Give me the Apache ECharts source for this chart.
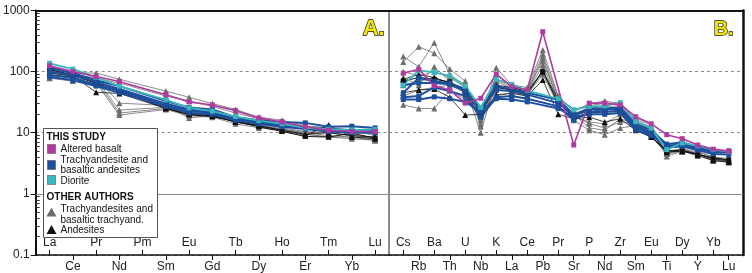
<!DOCTYPE html>
<html>
<head>
<meta charset="utf-8">
<script src="https://cdn.jsdelivr.net/npm/echarts@6/dist/echarts.min.js"></script>
<style>
  html, body { margin: 0; padding: 0; background: #fff; }
  #chart { width: 752px; height: 273px; }
</style>
</head>
<body>
<div id="chart"></div>
<script>
// categories
const catsA = ['La', 'Ce', 'Pr', 'Nd', 'Pm', 'Sm', 'Eu', 'Gd', 'Tb', 'Dy', 'Ho', 'Er', 'Tm', 'Yb', 'Lu'];
const catsB = ['Cs', 'Rb', 'Ba', 'Th', 'U', 'Nb', 'K', 'La', 'Ce', 'Pb', 'Pr', 'Sr', 'P', 'Nd', 'Zr', 'Sm', 'Eu', 'Ti', 'Dy', 'Y', 'Yb', 'Lu'];
const yTicks = [0.1, 1, 10, 100, 1000];

// A. REE (chondrite normalised) - Pm not analysed
const basaltA = [125, 100, 83, 69, null, 42, 32, 28.5, 23, 17.5, 15, 12.5, 11, 10.5, 10.5];
const dioriteA = [137, 110, 81, 58, null, 34.5, 25.5, 22.6, 18.4, 15.8, 14, 12, 11.4, 11.1, 11.3];
const trachyA1 = [115, 95, 72, 58, null, 33, 26, 24, 18, 16, 15, 14.5, 12.5, 12.8, 12];
const trachyA2 = [100, 88, 68, 52, null, 30, 24, 22, 17, 15, 13.5, 12, 11.5, 11, 11];
const trachyA3 = [88, 80, 60, 50, null, 28, 23, 21, 16.5, 14.5, 13, 12, 11, 10.5, 10.5];
const trachyA4 = [82, 72, 58, 45, null, 27, 21, 20, 16, 14, 12.5, 11.5, 10.5, 10, 10];
const otherTrA1 = [110, 95, 95, 75, null, 48, 38, 30, 24, 18, 16, 13, 12, 11, 10.5];
const otherTrA2 = [100, 85, 80, 30.5, null, 28, 22, 20, 16, 14, 12, 10.5, 10, 9, 8.5];
const otherTrA3 = [95, 82, 75, 23.5, null, 26, 21, 20, 15, 13.5, 11.5, 10, 9, 8.5, 8];
const otherTrA4 = [85, 78, 70, 21, null, 25, 20, 19, 15, 13, 11, 9.5, 8.5, 8, 7.5];
const otherTrA5 = [80, 75, 65, 19.5, null, 24, 19, 18, 14, 12, 11, 9.5, 8.5, 8.5, 7.5];
const otherTrA6 = [78, 70, 62, 48, null, 27, 17.5, 19, 15, 13, 11.5, 10, 10, 9, 8];
const otherTrA7 = [105, 90, 78, 65, null, 40, 33, 27, 21, 17, 14.5, 12.5, 12, 11, 9];
const andesA1 = [95, 85, 46, 44, null, 25, 20, 19, 15, 13, 11, 9.5, 10, 9, 8.5];
const andesA2 = [120, 92, 66, 52, null, 26, 21, 19, 16, 13, 11, 9, 13.4, 8.5, 8];
const andesA3 = [108, 88, 64, 48, null, 25, 19.7, 18.4, 15.2, 12.5, 10.5, 8.7, 8.5, 9.8, 8.2];

// B. multi-element (primitive mantle normalised)
const basaltB = [94, 109, 59, 50, 30.5, 36.7, 91, 57, 50, 450, null, 6.3, 30.5, 30.5, 28.6, 18.3, 14, 9.3, 8, 6.3, 5.4, 5];
const dioriteB = [60, 105, 97, 85, 58, 26, 75, 62, 49, null, 36, 23.7, 27, 27.5, 31, 15.2, 11.9, 5.3, 6.8, 6.1, 5.3, 4.9];
const trachyB1 = [45, 79, 69, 65, 52, 23, 57, 52, 45, null, 34.5, 20, 25, 25, 26, 14, 11, 6.5, 7, 5.8, 5.1, 5];
const trachyB2 = [60, 65, 65, 62, 48, 25, 50, 48, 42, null, 30.5, 19, 24, 24, 25, 13, 10, 6, 6.5, 5.5, 4.8, 4.8];
const trachyB3 = [38, 40, 55, 48, 40, 18, 38, 40, 36, null, 27, 16.2, 22, 22, 23, 12, 9.5, 5.8, 6, 5.2, 4.5, 4.4];
const trachyB4 = [35, 35, 38.6, 36, 32, 22, 36, 35, 32, null, 25, 18, 20, 20, 21, 11, 9, 6.2, 6.2, 5.5, 5, 5];
const otherTrB1 = [176, 120, 298, 90, 60, 14, 116, 60, 55, 226, 40, 22, 30, 33, 30, 18, 13, 5.5, 6, 5, 4, 3.8];
const otherTrB2 = [144, 256, 200, 110, 70, 12.7, 90, 58, 50, 190, 38, 24, 28, 30, 28, 17, 12, 5, 5.5, 4.8, 4, 3.5];
const otherTrB3 = [100, 85, 100, 80, 55, 10, 75, 55, 48, 150, 35, 20, 25, 27, 26, 16, 11, 4.5, 5.5, 4.5, 3.8, 3.5];
const otherTrB4 = [80, 60, 120, 70, 48, 16, 60, 50, 45, 128, 32, 18, 15, 14, 20, 15, 11, 4.1, 5, 4.5, 3.6, 3.4];
const otherTrB5 = [28.6, 25, 25, 50, 35, 20, 40, 45, 40, 110, 30, 20, 12, 11, 17, 14, 10, 5, 5, 4.5, 3.8, 3.5];
const otherTrB6 = [40, 50, 55, 60, 45, 18, 50, 48, 42, 90, 28, 16, 11, 9.3, 12, 13, 9, 4.5, 5, 4.2, 3.5, 3.3];
const otherTrB7 = [60, 70, 80, 65, 50, 22, 70, 52, 46, 170, 33, 19, 14, 12, 15, 14, 10, 5, 5.2, 4.6, 3.6, 3.4];
const andesB1 = [75, 90, 80, 65, 50, 25, 60, 55, 48, 100, 35, 20, 22, 24, 24, 12, 9.5, 5, 5, 4.5, 3.7, 3.5];
const andesB2 = [45, 50, 52, 38, 19.5, 20, 42, 44, 40, 73, 20, 17, 18, 15, 17, 11, 8.5, 4.8, 5, 4.3, 3.5, 3.3];
const andesB3 = [70, 80, 75, 68, 45, 21, 55, 50, 44, 100, 30, 18, 21, 22, 22, 11, 8.6, 5, 5.2, 4.4, 3.9, 3.6];

const C_BASALT = '#b03a9f';
const C_TRACHY = '#1c4f9e';
const C_DIORITE = '#3ab7bd';
const C_OTHER = '#6d6d6d';
const C_ANDES = '#111111';

const chart = echarts.init(document.getElementById('chart'));

function pts(values) {
  return values.map((v, i) => (v == null ? null : [i, v])).filter(Boolean);
}

function line(values, panel, color, symbol, width, size) {
  return {
    type: 'line',
    xAxisIndex: panel === 'A' ? 0 : 3,
    yAxisIndex: panel === 'A' ? 0 : 2,
    data: pts(values),
    symbol: symbol,
    symbolSize: size,
    showSymbol: true,
    lineStyle: { color: color, width: width },
    itemStyle: { color: color },
    animation: false,
    silent: true,
  };
}

// minor log ticks 2..9 in every decade
const minorTicks = [];
[0.1, 1, 10, 100].forEach((d) => {
  for (let k = 2; k <= 9; k++) minorTicks.push(+(d * k).toPrecision(3));
});

const labelFont = { fontFamily: 'Liberation Sans, Arial, sans-serif', fontSize: 12, color: '#222' };
const legendFont = '10px "Liberation Sans", Arial, sans-serif';
const legendBold = 'bold 10px "Liberation Sans", Arial, sans-serif';

function catAxes(grid, cats, min, max) {
  const even = cats.map((c, i) => i).filter(i => i % 2 === 0);
  const odd = cats.map((c, i) => i).filter(i => i % 2 === 1);
  return [
    {
      type: 'value', gridIndex: grid, position: 'bottom', min: min, max: max,
      axisLine: { show: true, onZero: false, lineStyle: { color: '#111', width: 1.5 } },
      splitLine: { show: false },
      axisTick: { show: true, inside: true, length: 5, customValues: even, lineStyle: { color: '#111' } },
      axisLabel: Object.assign({ inside: true, margin: 6, customValues: even, formatter: v => cats[v] }, labelFont),
    },
    {
      type: 'value', gridIndex: grid, position: 'bottom', min: min, max: max,
      axisLine: { show: false, onZero: false },
      splitLine: { show: false },
      axisTick: { show: true, inside: false, length: 5, customValues: odd, lineStyle: { color: '#111' } },
      axisLabel: Object.assign({ margin: 6, customValues: odd, formatter: v => cats[v] }, labelFont),
    },
    {
      type: 'value', gridIndex: grid, position: 'top', min: min, max: max,
      axisLine: { show: true, onZero: false, lineStyle: { color: '#111', width: 2 } },
      axisTick: { show: false }, axisLabel: { show: false }, splitLine: { show: false },
    },
  ];
}

const splitDashed = { show: true, lineStyle: { color: '#8a8a8a', type: [3, 3], width: 1 } };

const legendItems = [
  { type: 'rect', shape: { x: 0, y: 0, width: 114, height: 109 }, style: { fill: '#fff', stroke: '#555', lineWidth: 1 } },
  { type: 'text', x: 3, y: 9, style: { text: 'THIS STUDY', font: legendBold, fill: '#111', verticalAlign: 'middle' } },
  { type: 'rect', shape: { x: 4, y: 16, width: 8, height: 9 }, style: { fill: C_BASALT, stroke: '#555', lineWidth: 0.6 } },
  { type: 'text', x: 17, y: 21, style: { text: 'Altered basalt', font: legendFont, fill: '#111', verticalAlign: 'middle' } },
  { type: 'rect', shape: { x: 4, y: 32, width: 8, height: 9 }, style: { fill: C_TRACHY, stroke: '#555', lineWidth: 0.6 } },
  { type: 'text', x: 17, y: 32, style: { text: 'Trachyandesite and', font: legendFont, fill: '#111', verticalAlign: 'middle' } },
  { type: 'text', x: 17, y: 41.5, style: { text: 'basaltic andesites', font: legendFont, fill: '#111', verticalAlign: 'middle' } },
  { type: 'rect', shape: { x: 4, y: 47, width: 8, height: 9 }, style: { fill: C_DIORITE, stroke: '#555', lineWidth: 0.6 } },
  { type: 'text', x: 17, y: 53, style: { text: 'Diorite', font: legendFont, fill: '#111', verticalAlign: 'middle' } },
  { type: 'text', x: 3, y: 68.5, style: { text: 'OTHER AUTHORS', font: legendBold, fill: '#111', verticalAlign: 'middle' } },
  { type: 'polygon', shape: { points: [[8, 79], [3, 88], [13, 88]] }, style: { fill: C_OTHER } },
  { type: 'text', x: 17, y: 80.5, style: { text: 'Trachyandesites and', font: legendFont, fill: '#111', verticalAlign: 'middle' } },
  { type: 'text', x: 17, y: 92, style: { text: 'basaltic trachyand.', font: legendFont, fill: '#111', verticalAlign: 'middle' } },
  { type: 'polygon', shape: { points: [[8, 96.5], [3, 105.5], [13, 105.5]] }, style: { fill: C_ANDES } },
  { type: 'text', x: 17, y: 101.5, style: { text: 'Andesites', font: legendFont, fill: '#111', verticalAlign: 'middle' } },
].map(el => Object.assign({ z: 100 }, el));

const option = {
  backgroundColor: '#fff',
  animation: false,
  grid: [
    { left: 35, top: 10.5, width: 354, height: 244.5 },
    { left: 389, top: 10.5, width: 354, height: 244.5 },
  ],
  xAxis: [].concat(catAxes(0, catsA, -0.6, 14.6), catAxes(1, catsB, -0.92, 21.92)),
  yAxis: [
    {
      type: 'log', logBase: 10, gridIndex: 0, min: 0.1, max: 1000, position: 'left',
      axisLine: { show: true, onZero: false, lineStyle: { color: '#111', width: 2 } },
      axisTick: { show: true, length: 5, customValues: yTicks, lineStyle: { color: '#111' } },
      axisLabel: Object.assign({ margin: 6, customValues: yTicks, formatter: v => String(v) }, labelFont),
      splitLine: splitDashed,
    },
    {
      type: 'log', logBase: 10, gridIndex: 0, min: 0.1, max: 1000, position: 'left',
      axisLine: { show: false, onZero: false },
      axisTick: { show: true, inside: true, length: 4, customValues: minorTicks, lineStyle: { color: '#333' } },
      axisLabel: { show: false },
      splitLine: { show: false },
    },
    {
      type: 'log', logBase: 10, gridIndex: 1, min: 0.1, max: 1000, position: 'left',
      axisLine: { show: true, onZero: false, lineStyle: { color: '#666', width: 1.5 } },
      axisTick: { show: false }, axisLabel: { show: false },
      splitLine: splitDashed,
    },
    {
      type: 'log', logBase: 10, gridIndex: 1, min: 0.1, max: 1000, position: 'right',
      axisLine: { show: true, onZero: false, lineStyle: { color: '#111', width: 2.5 } },
      axisTick: { show: false }, axisLabel: { show: false }, splitLine: { show: false },
    },
  ],
  series: [
    // reference lines at 1
    {
      type: 'line', xAxisIndex: 0, yAxisIndex: 0, data: [], silent: true,
      markLine: { silent: true, symbol: 'none', label: { show: false }, lineStyle: { color: '#8a8a8a', type: 'solid', width: 1 }, data: [{ yAxis: 1 }] },
    },
    {
      type: 'line', xAxisIndex: 3, yAxisIndex: 2, data: [], silent: true,
      markLine: { silent: true, symbol: 'none', label: { show: false }, lineStyle: { color: '#8a8a8a', type: 'solid', width: 1 }, data: [{ yAxis: 1 }] },
    },
    // other authors
    ...[otherTrA1, otherTrA2, otherTrA3, otherTrA4, otherTrA5, otherTrA6, otherTrA7].map(v => line(v, 'A', C_OTHER, 'triangle', 0.8, 6)),
    ...[otherTrB1, otherTrB2, otherTrB3, otherTrB4, otherTrB5, otherTrB6, otherTrB7].map(v => line(v, 'B', C_OTHER, 'triangle', 0.8, 6)),
    ...[andesA1, andesA2].map(v => line(v, 'A', C_ANDES, 'triangle', 0.8, 6)),
    line(andesA3, 'A', C_ANDES, 'rect', 1, 5),
    ...[andesB1, andesB2].map(v => line(v, 'B', C_ANDES, 'triangle', 0.8, 6)),
    line(andesB3, 'B', C_ANDES, 'rect', 1, 5),
    // this study
    ...[trachyA1, trachyA2, trachyA3, trachyA4].map(v => line(v, 'A', C_TRACHY, 'rect', 2, 5)),
    ...[trachyB1, trachyB2, trachyB3, trachyB4].map(v => line(v, 'B', C_TRACHY, 'rect', 2, 5)),
    line(dioriteA, 'A', C_DIORITE, 'rect', 1.8, 5),
    line(dioriteB, 'B', C_DIORITE, 'rect', 1.8, 5),
    line(basaltA, 'A', C_BASALT, 'rect', 1.6, 5),
    line(basaltB, 'B', C_BASALT, 'rect', 1.6, 5),
  ].map(s => Object.assign({ connectNulls: true, z: 3 }, s)),
  graphic: [
    {
      type: 'text', left: 362, top: 17, z: 100,
      style: { text: 'A.', font: 'bold 22px "Liberation Sans", Arial, sans-serif', fill: '#f3e600', stroke: '#111', lineWidth: 1.3 },
    },
    {
      type: 'text', left: 713, top: 19, z: 100,
      style: { text: 'B.', font: 'bold 20px "Liberation Sans", Arial, sans-serif', fill: '#f3e600', stroke: '#111', lineWidth: 1.3 },
    },
    { type: 'group', left: 43, top: 128, z: 100, children: legendItems },
  ],
};

chart.setOption(option);
</script>
</body>
</html>
